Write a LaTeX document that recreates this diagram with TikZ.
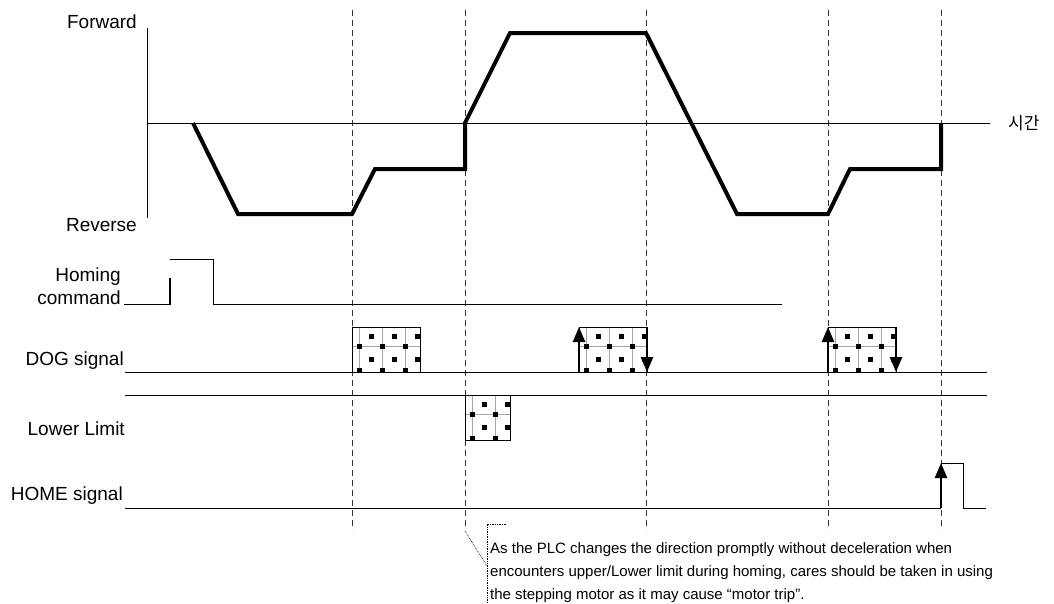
\documentclass[tikz,border=0pt]{standalone}
\usepackage{fontspec}
\setmainfont{Liberation Sans}
\newfontfamily\kofont{Noto Sans CJK KR}
\usetikzlibrary{arrows.meta, calc}

% hatched signal block: #1 = top left corner, #2 = width, #3 = height
\newcommand{\patbox}[3]{%
  \begin{scope}[shift={#1}]
    \begin{scope}
      \clip (0,0) rectangle (#2,#3);
      \draw[cellline] (0,19) -- (#2,19);
      \foreach \i in {0,1,2} {
        \draw[cellline] (7+23*\i,0) -- (7+23*\i,#3);
        \fill (4.5+23*\i,16.5) rectangle ++(5,5);
        \fill (4.5+23*\i,40.5) rectangle ++(5,5);
        \fill (16.5+23*\i,6.5) rectangle ++(5,5);
        \fill (16.5+23*\i,29.5) rectangle ++(5,5);
      }
    \end{scope}
    \draw[sigline] (0,0) rectangle (#2,#3);
  \end{scope}%
}

\begin{document}
\begin{tikzpicture}[
        x=1pt, y=-1pt,
        sigline/.style={line width=1pt},
        cellline/.style={line width=0.8pt, black!35},
        prof/.style={line width=4pt, line join=miter},
        tline/.style={line width=0.9pt, black!80, dash pattern=on 6pt off 4pt},
        notel/.style={line width=0.7pt, densely dotted},
        edgearr/.style={line width=2.5pt, -{Triangle[length=15pt, width=12pt]}},
        lbl/.style={inner sep=0pt, font=\fontsize{19}{23}\selectfont},
        notetxt/.style={inner sep=0pt, align=left, font=\fontsize{15}{23}\selectfont}
    ]
        \useasboundingbox (0,0) rectangle (1054,603);

        % -- time marks --
        \foreach \tx in {352,465,646,828,941}
            \draw[tline] (\tx,10) -- (\tx,530);

        % -- speed axis --
        \node[lbl, anchor=base east] (fwd) at (137,28)  {Forward};
        \node[lbl, anchor=base east] (rev) at (137,231) {Reverse};
        \node[lbl, anchor=west, font=\kofont\fontsize{17}{20}\selectfont] (time) at (1008,123) {시간};
        \draw[sigline] (147,28) -- (147,218);
        \draw[sigline] (147,123) -- (990,123);

        % speed profile
        \draw[prof] (193,123) -- (238,214) -- (352,214) -- (375,169) -- (465,169)
            -- (465,123) -- (510,33) -- (646,33) -- (737,214) -- (828,214)
            -- (850,169) -- (941,169) -- (941,123);

        % -- homing command --
        \node[lbl, align=right, anchor=north east] (homing) at (121,268) {Homing\\command};
        \draw[sigline] (124,304) -- (170,304);
        \draw[line width=2.5pt] (170,305) -- (170,278);
        \draw[sigline] (170,259) -- (213,259) -- (213,304) -- (782,304);

        % -- DOG signal --
        \node[lbl, anchor=base east] (dog) at (124,365) {DOG signal};
        \patbox{(352,327)}{68}{45}
        \patbox{(579,327)}{68}{45}
        \patbox{(828,327)}{68}{45}
        \draw[sigline] (125,372) -- (987,372);
        \draw[edgearr] (579,372) -- (579,327);
        \draw[edgearr] (647,327) -- (647,372);
        \draw[edgearr] (828,372) -- (828,327);
        \draw[edgearr] (896,327) -- (896,372);

        % -- lower limit --
        \node[lbl, anchor=base east] (lowlim) at (125,435) {Lower Limit};
        \patbox{(465,395)}{45}{45}
        \draw[sigline] (125,395) -- (987,395);

        % -- HOME signal --
        \node[lbl, anchor=base east] (home) at (123,500) {HOME signal};
        \draw[sigline] (125,508) -- (941,508);
        \draw[edgearr] (941,508) -- (941,463);
        \draw[sigline] (941,463) -- (963,463) -- (963,508) -- (986,508);

        % -- remark --
        \draw[notel] (465,531) -- (487,566);
        \draw[notel] (506,524) -- (487,524) -- (487,603);
        \node[notetxt, anchor=north west] (note) at (490,542)
            {As the PLC changes the direction promptly without deceleration when\\
             encounters upper/Lower limit during homing, cares should be taken in using\\
             the stepping motor as it may cause “motor trip”.};
    \end{tikzpicture}
\end{document}
